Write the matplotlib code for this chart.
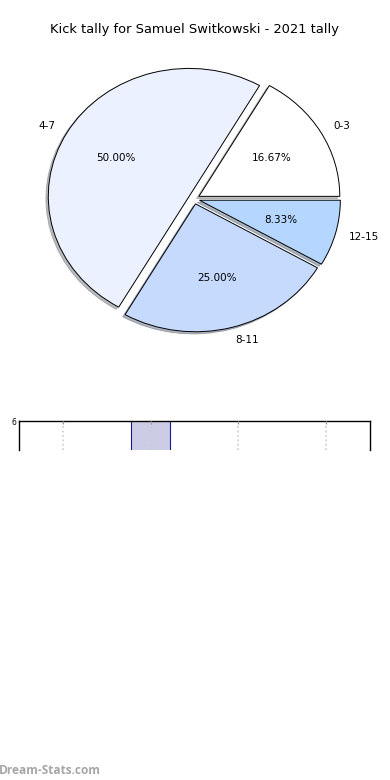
import matplotlib.pyplot as plt
import numpy as np

# dados
faixas = ['0-3', '4-7', '8-11', '12-15']
chutes = [2, 6, 3, 1]
cores = ['#ffffff', '#ebf1fe', '#c6dafe', '#b4d6ff']
afastamento = [0.04, 0.04, 0.04, 0.04]

barra_pos = [1]
barra_val = [7]
grade_pos = [0, 1, 2, 3]

fig = plt.figure(figsize=(3.9, 7.8), dpi=100)

# pizza
ax = fig.add_axes([0.046, 0.540, 0.903, 0.410])
ax.pie(chutes, labels=faixas, colors=cores, explode=afastamento,
       autopct='%1.2f%%', shadow={'ox': -0.012, 'oy': -0.012, 'shade': 0.5},
       startangle=0,
       wedgeprops={'edgecolor': 'black', 'linewidth': 0.7},
       textprops={'fontsize': 7.5})
ax.set_aspect('auto')
ax.set_xlim(-1.25, 1.25)
ax.set_ylim(-1.25, 1.25)

fig.text(0.5, 0.962, 'Kick tally for Samuel Switkowski - 2021 tally',
         ha='center', va='center', fontsize=9.4)

# barra cortada
ax2 = fig.add_axes([0.049, 0.423, 0.900, 0.037])
ax2.bar(barra_pos, barra_val, width=0.45, color='#ccccE6',
        edgecolor='#1a1a8c', linewidth=0.8, zorder=1)
ax2.set_xlim(-0.5, 3.5)
ax2.set_ylim(5.0, 6.0)
ax2.set_yticks([6])
ax2.set_yticklabels(['6'], fontsize=5.5)
ax2.set_xticks(grade_pos)
ax2.set_xticklabels([])
ax2.tick_params(axis='x', direction='in', length=2, color='#999999', top=True, bottom=False)
ax2.tick_params(axis='y', length=0, pad=2)
ax2.grid(axis='x', color='#cccccc', linestyle=':', linewidth=1.2, zorder=2)
ax2.set_axisbelow(False)
ax2.spines['bottom'].set_visible(False)
for s in ['top', 'left', 'right']:
    ax2.spines[s].set_linewidth(1.0)

fig.text(-0.003, 0.012, 'Dream-Stats.com', ha='left', va='center',
         fontsize=8.6, color='#a6a6a6', fontweight='bold', family='Open Sans')

fig.savefig('out.png', dpi=100)
